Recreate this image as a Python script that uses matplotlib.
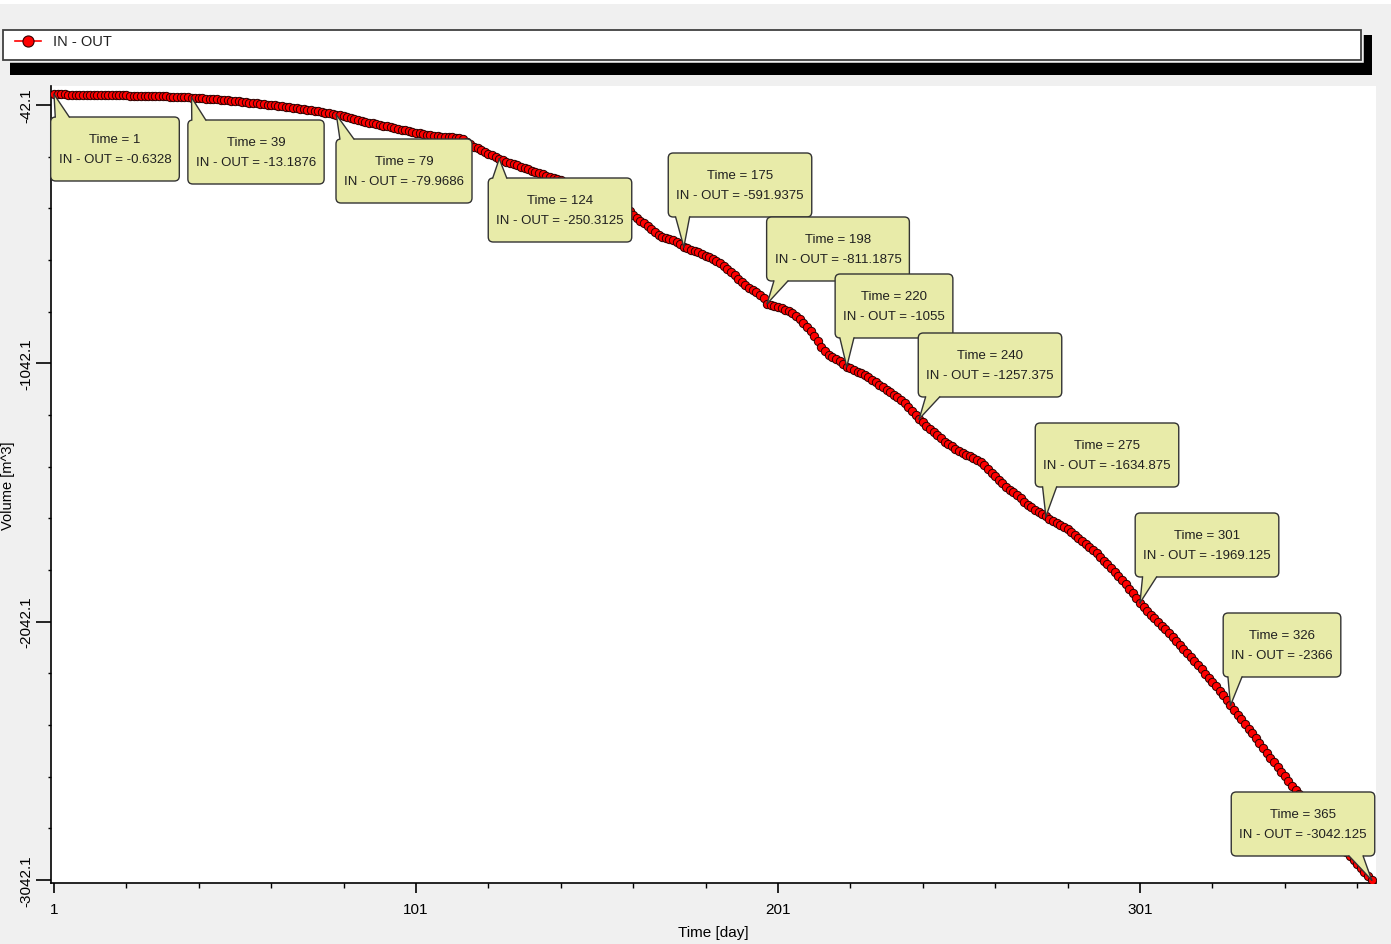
import numpy as np
import matplotlib.pyplot as plt
from matplotlib.patches import Rectangle, FancyBboxPatch, Polygon
from matplotlib.lines import Line2D
from matplotlib.transforms import IdentityTransform

# ---- data ----
days = np.arange(1, 366)
in_out = [
    -0.6328, -0.9, -1.2, -1.4, -1.7, -2.0, -2.2, -2.4, -2.7, -3.0,
    -3.2, -3.4, -3.6, -3.8, -4.0, -4.2, -4.4, -4.6, -4.8, -5.0,
    -5.2, -5.4, -5.6, -5.8, -6.0, -6.3, -6.6, -7.0, -7.5, -8.0,
    -8.5, -9.0, -9.5, -10.0, -10.6, -11.2, -11.8, -12.5, -13.1876, -14.0,
    -15, -16, -17, -18, -19, -20, -21, -22.5, -24, -25.5,
    -27, -28.5, -30, -31.5, -33, -34.5, -36, -37.5, -39, -40.5,
    -42, -43.5, -45, -47, -49, -51, -53, -55, -57, -59,
    -61, -63, -65, -67, -69.5, -72, -74.5, -77, -79.9686, -81,
    -84, -88, -92, -96, -100, -104, -107, -110, -113, -116,
    -119, -122, -125, -128, -131, -134, -137, -140, -143, -146,
    -149, -152, -155, -158, -160, -162, -163, -164, -165, -166,
    -167, -168, -170, -175, -184, -194, -203, -210, -217, -224,
    -231, -237, -244, -250.3125, -256, -261, -266, -271, -276, -281,
    -286, -291, -296, -301, -306, -311, -315, -319, -323, -327,
    -333, -339, -345, -351, -358, -365, -372, -379, -386, -393,
    -399, -405, -411, -417, -423, -429, -435, -441, -447, -454,
    -466, -478, -490, -500, -510, -522, -535, -546, -552, -557,
    -561, -565, -572, -582, -591.9375, -597, -602, -607, -613, -620,
    -626, -632, -638, -645, -653, -664, -676, -689, -702, -715,
    -728, -740, -750, -758, -766, -776, -790, -811.1875, -816, -820,
    -824, -829, -834, -840, -849, -859, -872, -886, -900, -915,
    -936, -957, -979, -996, -1008, -1018, -1026, -1033, -1044, -1055,
    -1062, -1068, -1074, -1080, -1088, -1096, -1105, -1114, -1124, -1134,
    -1144, -1154, -1164, -1174, -1184, -1196, -1210, -1225, -1241, -1257.375,
    -1270, -1283, -1296, -1309, -1321, -1333, -1345, -1355, -1364, -1372,
    -1380, -1388, -1395, -1402, -1408, -1415, -1424, -1436, -1450, -1465,
    -1480, -1494, -1507, -1519, -1531, -1542, -1553, -1565, -1577, -1589,
    -1600, -1608, -1616, -1625, -1634.875, -1643, -1651, -1659, -1667, -1675,
    -1684, -1694, -1705, -1717, -1729, -1741, -1753, -1765, -1778, -1792,
    -1806, -1820, -1834, -1849, -1864, -1881, -1898, -1915, -1932, -1950,
    -1969.125, -1985, -2000, -2015, -2029, -2043, -2057, -2071, -2085, -2100,
    -2115, -2131, -2147, -2163, -2179, -2195, -2211, -2227, -2243, -2259,
    -2275, -2292, -2309, -2327, -2346, -2366, -2384, -2402, -2420, -2438,
    -2456, -2474, -2493, -2512, -2531, -2550, -2569, -2587, -2605, -2623,
    -2641, -2659, -2677, -2694, -2711, -2728, -2745, -2762, -2779, -2796,
    -2813, -2830, -2847, -2864, -2881, -2898, -2915, -2932, -2949, -2966,
    -2982, -2997, -3012, -3027, -3042.125,
]
assert len(in_out) == len(days)

label_days = [1, 39, 79, 124, 175, 198, 220, 240, 275, 301, 326, 365]
x_ticks = [1, 101, 201, 301]
y_ticks = [-42.1, -1042.1, -2042.1, -3042.1]

# callout layout: box centre (image px), pointer side and where it leaves the box
box_centres = [(115, 150), (256, 153), (404, 172), (560, 211), (740, 186),
               (838, 250), (894, 307), (990, 366), (1107, 456), (1207, 546),
               (1282, 646), (1303, 825)]
box_side = ['top'] * 4 + ['bottom'] * 8
box_frac = [0.09, 0.08, 0.08, 0.08, 0.1, 0.1, 0.1, 0.1, 0.1, 0.1, 0.1, 0.87]

W, H = 1391, 945
FONT = ['Liberation Sans', 'DejaVu Sans']
BG = '#F0F0F0'
BOX = '#E8EBA9'
EDGE = '#333333'


def fx(x):
    return x / W


def fy(y):
    return 1 - y / H


fig = plt.figure(figsize=(W / 100, H / 100), dpi=100, facecolor=BG)

# white strip at very top
fig.add_artist(Rectangle((0, fy(5)), 1, 5 / H, transform=fig.transFigure,
                         fc='white', ec='none'))

# legend frame with black shadow
fig.add_artist(Rectangle((fx(10), fy(76)), fx(1372) - fx(10), (76 - 36) / H,
                         transform=fig.transFigure, fc='black', ec='none'))
fig.add_artist(Rectangle((fx(3), fy(61)), fx(1361) - fx(3), 30 / H,
                         transform=fig.transFigure, fc='white', ec=BG, lw=4))
fig.add_artist(Rectangle((fx(3), fy(61)), fx(1361) - fx(3), 30 / H,
                         transform=fig.transFigure, fc='white', ec='#404040', lw=1.3))
fig.add_artist(Line2D([fx(15), fx(41)], [fy(42), fy(42)], transform=fig.transFigure,
                      color='red', lw=1.2))
fig.add_artist(Line2D([fx(28)], [fy(42)], transform=fig.transFigure, marker='o',
                      ms=8, mfc='red', mec='#300000', mew=0.8, ls='none'))
fig.text(fx(53), fy(42), 'IN - OUT', family=FONT, fontsize=10.5,
         va='center', ha='left', color='#202020')

# ---- main axes ----
ax = fig.add_axes([fx(51), fy(884), fx(1376) - fx(51), (884 - 87) / H])
ax.set_facecolor('white')
ax.plot(days, in_out, color='red', lw=1, marker='o', ms=6, mfc='red',
        mec='#2a0000', mew=0.7, zorder=3)

ax.set_xlim(0.17, 366.2)
ax.set_ylim(-3053.7, 31.5)
ax.set_xticks(x_ticks)
ax.set_xticks(np.arange(1, 366, 20), minor=True)
ax.set_yticks(y_ticks)
ax.set_yticks(np.arange(-42.1, -3100, -200), minor=True)
ax.set_xticklabels([str(t) for t in x_ticks], family=FONT, fontsize=11)
ax.set_yticklabels([f'{t:.1f}' for t in y_ticks], family=FONT, fontsize=11,
                   rotation=90, va='center')
ax.tick_params(axis='x', which='major', length=7, width=1.2, pad=7)
ax.tick_params(axis='x', which='minor', length=3.5, width=1)
ax.tick_params(axis='y', which='major', length=11, width=1.2, pad=2)
ax.tick_params(axis='y', which='minor', length=2.5, width=1)
for s in ['top', 'right']:
    ax.spines[s].set_visible(False)
for s in ['left', 'bottom']:
    ax.spines[s].set_linewidth(1.2)

ax.set_xlabel('Time [day]', family=FONT, fontsize=11, labelpad=6)
ax.set_ylabel('Volume [m^3]', family=FONT, fontsize=10.5, labelpad=3)

# ---- callouts (speech-bubble boxes) ----
texts = []
for d, (cx, cy) in zip(label_days, box_centres):
    v = in_out[d - 1]
    vs = f'{v:.4f}'.rstrip('0').rstrip('.')
    t = fig.text(fx(cx), fy(cy), f'Time = {d}\nIN - OUT = {vs}', ha='center',
                 va='center', family=FONT, fontsize=9.5, linespacing=1.9,
                 color='#202020', zorder=7)
    texts.append(t)

fig.canvas.draw()
ident = IdentityTransform()
for t, d, (cx, cy), side, frac in zip(texts, label_days, box_centres, box_side, box_frac):
    w = t.get_window_extent().width + 16
    h = 64
    X, Y = cx, H - cy
    fig.add_artist(FancyBboxPatch((X - w / 2, Y - h / 2), w, h,
                                  boxstyle='round,pad=0,rounding_size=5',
                                  fc=BOX, ec=EDGE, lw=1, transform=ident, zorder=4))
    tip = ax.transData.transform((d, in_out[d - 1]))
    bx = X - w / 2 + frac * w
    ey = Y + h / 2 if side == 'top' else Y - h / 2
    inward = -1.5 if side == 'top' else 1.5
    fig.add_artist(Polygon([(bx - 7, ey + inward), (bx - 7, ey), tuple(tip),
                            (bx + 7, ey), (bx + 7, ey + inward)],
                           closed=True, fc=BOX, ec='none', transform=ident, zorder=5))
    for sx in (bx - 7, bx + 7):
        fig.add_artist(Line2D([sx, tip[0]], [ey, tip[1]], color=EDGE, lw=1,
                              transform=ident, zorder=6))

fig.savefig('out.png', dpi=100, facecolor=BG)
